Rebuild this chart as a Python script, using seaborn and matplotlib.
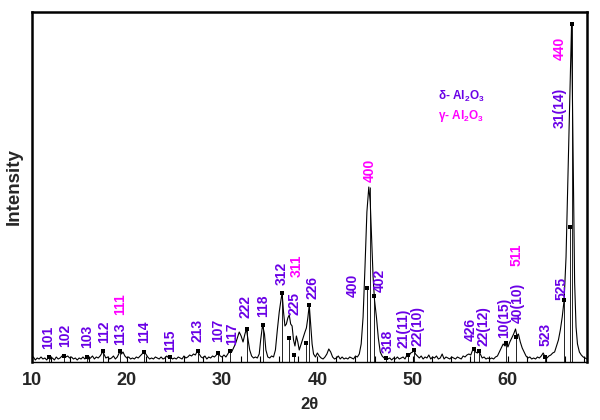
import matplotlib
matplotlib.use("Agg")
import matplotlib.pyplot as plt
from matplotlib.ticker import MultipleLocator, FixedLocator
import pandas as pd
import seaborn as sns

# ---------------- data ----------------
two_theta = [
    10.0, 10.2, 10.4, 10.6, 10.8, 11.0, 11.2, 11.4, 11.6, 11.8, 12.0, 12.2, 12.4, 12.6, 12.8,
    13.0, 13.2, 13.4, 13.6, 13.8, 14.0, 14.2, 14.4, 14.6, 14.8, 15.0, 15.2, 15.4, 15.6, 15.8,
    16.0, 16.2, 16.4, 16.6, 16.8, 17.0, 17.2, 17.4, 17.5, 17.6, 17.8, 18.0, 18.2, 18.4, 18.6,
    18.8, 19.0, 19.2, 19.3, 19.45, 19.6, 19.8, 20.0, 20.2, 20.4, 20.6, 20.8, 21.0, 21.2, 21.4,
    21.6, 21.8, 22.0, 22.2, 22.4, 22.6, 22.8, 23.0, 23.2, 23.4, 23.6, 23.8, 24.0, 24.2, 24.4,
    24.6, 24.8, 25.0, 25.2, 25.4, 25.6, 25.8, 26.0, 26.2, 26.4, 26.6, 26.8, 27.0, 27.2, 27.4,
    27.6, 27.8, 28.0, 28.2, 28.4, 28.6, 28.8, 29.0, 29.2, 29.4, 29.6, 29.8, 30.0, 30.2, 30.4,
    30.6, 30.8, 31.0, 31.2, 31.4, 31.6, 31.8, 32.0, 32.2, 32.4, 32.55, 32.7, 32.9, 33.1, 33.3,
    33.5, 33.7, 33.9, 34.05, 34.25, 34.45, 34.6, 34.8, 35.0, 35.2, 35.4, 35.6, 35.8, 36.0, 36.15,
    36.3, 36.45, 36.6, 36.75, 36.9, 37.05, 37.2, 37.35, 37.5, 37.65, 37.8, 37.95, 38.1, 38.3, 38.5,
    38.7, 38.85, 39.0, 39.15, 39.3, 39.45, 39.6, 39.8, 40.0, 40.2, 40.4, 40.6, 40.8, 41.0, 41.2,
    41.4, 41.6, 41.8, 42.0, 42.2, 42.4, 42.6, 42.8, 43.0, 43.2, 43.4, 43.6, 43.8, 44.0, 44.2,
    44.4, 44.6, 44.8, 45.0, 45.2, 45.4, 45.55, 45.7, 45.85, 46.0, 46.2, 46.4, 46.6, 46.8, 47.0,
    47.2, 47.4, 47.6, 47.8, 48.0, 48.2, 48.4, 48.6, 48.8, 49.0, 49.2, 49.4, 49.6, 49.8, 50.0,
    50.15, 50.3, 50.5, 50.7, 50.9, 51.1, 51.3, 51.5, 51.7, 51.9, 52.1, 52.3, 52.5, 52.7, 52.9,
    53.1, 53.3, 53.5, 53.7, 53.9, 54.1, 54.3, 54.5, 54.7, 54.9, 55.1, 55.3, 55.5, 55.7, 55.9,
    56.1, 56.3, 56.45, 56.6, 56.8, 56.95, 57.1, 57.3, 57.5, 57.7, 57.9, 58.1, 58.3, 58.5, 58.7,
    58.9, 59.1, 59.3, 59.5, 59.7, 59.85, 60.0, 60.2, 60.4, 60.6, 60.8, 60.95, 61.1, 61.3, 61.5,
    61.7, 61.9, 62.1, 62.3, 62.5, 62.7, 62.9, 63.1, 63.3, 63.5, 63.7, 63.9, 64.1, 64.3, 64.5,
    64.7, 64.9, 65.1, 65.3, 65.5, 65.7, 65.9, 66.1, 66.3, 66.5, 66.68, 66.85, 67.0, 67.15, 67.3,
    67.5, 67.7, 67.9, 68.1, 68.3,
]
intensity = [
    3, 5, 2, 4, 3, 5, 3, 4, 2, 5, 3, 4, 2, 5, 3,
    4, 6, 7, 5, 6, 4, 5, 3, 4, 2, 4, 3, 5, 3, 5,
    3, 4, 6, 3, 5, 4, 6, 9, 11, 8, 4, 5, 3, 4, 6,
    3, 5, 9, 12, 8, 10, 6, 4, 5, 3, 4, 3, 5, 4, 6,
    8, 10, 8, 5, 3, 4, 3, 5, 4, 3, 5, 3, 4, 6, 4,
    5, 3, 4, 3, 5, 4, 3, 6, 4, 5, 7, 6, 8, 7, 11,
    8, 5, 4, 6, 3, 5, 4, 6, 5, 7, 9, 6, 5, 7, 5,
    8, 11, 10, 14, 18, 24, 30, 26, 20, 28, 33, 24, 12, 6, 4,
    5, 4, 8, 22, 37, 28, 12, 5, 4, 6, 5, 12, 32, 50, 60,
    69, 50, 36, 38, 44, 47, 38, 36, 22, 16, 26, 20, 12, 18, 24,
    30, 34, 44, 57, 38, 18, 8, 5, 9, 6, 4, 3, 5, 8, 13,
    10, 5, 3, 4, 6, 3, 5, 3, 4, 3, 5, 4, 3, 6, 5,
    8, 18, 45, 95, 150, 175, 160, 122, 85, 62, 45, 24, 10, 6, 4,
    5, 3, 4, 2, 4, 3, 5, 3, 4, 5, 3, 7, 6, 9, 10,
    12, 8, 6, 4, 6, 3, 5, 4, 7, 3, 5, 4, 6, 3, 4,
    8, 3, 5, 4, 3, 5, 4, 3, 5, 4, 3, 6, 5, 7, 8,
    7, 12, 13, 10, 9, 11, 8, 4, 5, 3, 4, 3, 4, 3, 5,
    6, 10, 14, 18, 16, 19, 15, 20, 24, 28, 33, 26, 28, 20, 14,
    10, 6, 4, 5, 3, 4, 3, 5, 4, 6, 9, 5, 4, 6, 7,
    9, 10, 16, 22, 32, 45, 62, 105, 185, 265, 338, 200, 80, 35, 18,
    10, 7, 5, 4, 3,
]

# reflection markers (dot on a drop line)
peak_2theta = [11.80, 13.44, 15.86, 17.53, 19.32, 21.84, 24.56, 27.47, 29.62, 30.83,
               32.58, 34.29, 36.29, 37.07, 37.55, 38.77, 39.15, 45.17, 45.94, 47.21,
               49.54, 50.15, 56.42, 56.96, 59.82, 60.82, 63.86, 65.88, 66.51, 66.68]
peak_intensity = [5, 6, 5, 11, 11, 10, 5, 11, 9, 11,
                  33, 37, 69, 24, 7, 19, 57, 74, 66, 4,
                  7, 12, 13, 11, 19, 25, 5, 62, 135, 338]

# γ-Al2O3 main reflection drop line
gamma_line_2theta = [45.49]
gamma_line_intensity = [175]

# reflection labels: text, phase, anchor (2θ, intensity of label bottom)
label_text = ["101", "102", "103", "112", "113", "111", "114", "115", "213", "107",
              "117", "222", "118", "312", "311", "225", "226", "400", "400", "402",
              "318", "21(11)", "22(10)", "426", "22(12)", "10(15)", "40(10)", "511",
              "523", "525", "31(14)", "440"]
label_phase = ["d", "d", "d", "d", "d", "g", "d", "d", "d", "d",
               "d", "d", "d", "d", "g", "d", "d", "d", "g", "d",
               "d", "d", "d", "d", "d", "d", "d", "g",
               "d", "d", "d", "g"]
label_x = [11.73, 13.52, 15.82, 17.61, 19.29, 19.29, 21.80, 24.53, 27.37, 29.57,
           31.04, 32.51, 34.29, 36.28, 37.86, 37.65, 39.54, 43.74, 45.52, 46.57,
           47.36, 49.05, 50.52, 56.05, 57.45, 59.64, 61.05, 60.89,
           63.94, 65.67, 65.46, 65.46]
label_y = [13, 15, 14, 19, 17, 47, 19, 10, 20, 20,
           17, 44, 45, 77, 85, 47, 63, 65, 180, 70,
           9, 14, 16, 21, 16, 24.5, 39, 96,
           16, 62, 234, 302]

legend_text = ["δ- Al$_\\mathbf{2}$O$_\\mathbf{3}$", "γ- Al$_\\mathbf{2}$O$_\\mathbf{3}$"]
legend_phase = ["d", "g"]

x_ticks = [10, 20, 30, 40, 50, 60]
x_tick_labels = ["10", "20", "30", "40", "50", "60"]

# ---------------- style ----------------
sns.set_theme(style="white")
plt.rcParams["font.family"] = ["Liberation Sans", "DejaVu Sans"]
plt.rcParams["font.weight"] = "bold"
plt.rcParams["mathtext.fontset"] = "custom"
plt.rcParams["mathtext.rm"] = "Liberation Sans:bold"
plt.rcParams["mathtext.bf"] = "Liberation Sans:bold"
plt.rcParams["mathtext.it"] = "Liberation Sans:bold"

phase_color = {"d": "#6a00e6", "g": "#ff00ff"}

fig = plt.figure(figsize=(6, 4.2), dpi=100)
ax = fig.add_axes([31.5 / 600, 1 - 362 / 420, (587 - 31.5) / 600, (362 - 12) / 420])

df = pd.DataFrame({"2θ": two_theta, "Intensity": intensity})
sns.lineplot(data=df, x="2θ", y="Intensity", sort=False, estimator=None,
             color="black", linewidth=0.8, ax=ax)

ax.vlines(peak_2theta, 0, peak_intensity, color="black", linewidth=0.6)
ax.vlines(gamma_line_2theta, 0, gamma_line_intensity, color="black", linewidth=0.6)
pk = pd.DataFrame({"x": peak_2theta, "y": peak_intensity})
sns.scatterplot(data=pk, x="x", y="y", marker="s", s=7, color="black",
                linewidth=0, ax=ax, zorder=5)

for t, ph, lx, ly in zip(label_text, label_phase, label_x, label_y):
    ax.text(lx, ly, t, rotation=90, ha="center", va="bottom",
            color=phase_color[ph], fontsize=10, fontweight="bold")

for i, (t, ph) in enumerate(zip(legend_text, legend_phase)):
    ax.text(52.7, 266 - 20 * i, t, ha="left", va="center",
            color=phase_color[ph], fontsize=8.5, fontweight="bold")

ax.set_xlim(10, 68.3)
ax.set_ylim(0, 350)
ax.xaxis.set_major_locator(FixedLocator(x_ticks))
ax.set_xticklabels(x_tick_labels)
ax.xaxis.set_minor_locator(MultipleLocator(2))
ax.tick_params(axis="x", which="both", direction="in", length=4, width=0.8,
               color="black", bottom=True, top=False, labelsize=13, pad=7)
ax.tick_params(axis="y", left=False, labelleft=False)
for lab in ax.get_xticklabels():
    lab.set_fontweight("bold")

ax.set_xlabel("2θ", fontsize=12, fontweight="bold", labelpad=6)
ax.set_ylabel("Intensity", fontsize=13.5, fontweight="bold", labelpad=6)

for side in ["left", "top", "right"]:
    ax.spines[side].set_linewidth(1.8)
    ax.spines[side].set_color("black")
ax.spines["bottom"].set_linewidth(1.0)
ax.spines["bottom"].set_color("black")

fig.savefig("out.png", dpi=100)
